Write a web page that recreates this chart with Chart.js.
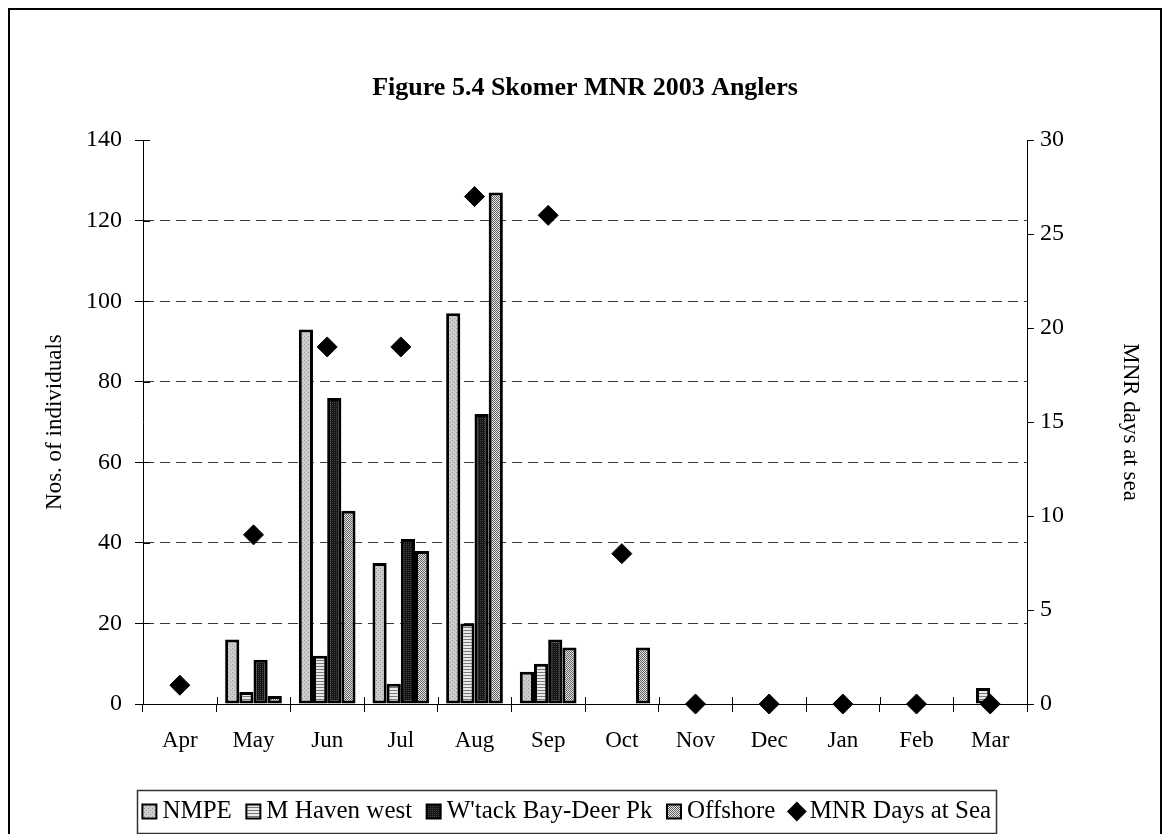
<!DOCTYPE html>
<html>
<head>
<meta charset="utf-8">
<title>Skomer MNR 2003 Anglers</title>
<script src="https://cdn.jsdelivr.net/npm/chart.js@4"></script>
<style>
  body { margin: 0; background: #fff; }
  #wrap { position: relative; width: 1170px; height: 834px; }
</style>
</head>
<body>
<div id="wrap"><canvas id="chart-area" width="1170" height="834"></canvas></div>
<script>
// data
var months = ['Apr', 'May', 'Jun', 'Jul', 'Aug', 'Sep', 'Oct', 'Nov', 'Dec', 'Jan', 'Feb', 'Mar'];
var nmpe = [0, 16, 93, 35, 97, 8, 0, 0, 0, 0, 0, 0];
var mHavenWest = [0, 3, 12, 5, 20, 10, 0, 0, 0, 0, 0, 4];
var wtackBay = [0, 11, 76, 41, 72, 16, 0, 0, 0, 0, 0, 0];
var offshore = [0, 2, 48, 38, 127, 14, 14, 0, 0, 0, 0, 0];
var daysAtSea = [1, 9, 19, 19, 27, 26, 8, 0, 0, 0, 0, 0];
var leftTicks = [0, 20, 40, 60, 80, 100, 120, 140];
var rightTicks = [0, 5, 10, 15, 20, 25, 30];

var serif = '"Liberation Serif", "Times New Roman", serif';

function makePattern(w, h, paint) {
	var c = document.createElement('canvas');
	c.width = w; c.height = h;
	var g = c.getContext('2d');
	paint(g);
	return g.createPattern(c, 'repeat');
}

var fillNmpe = makePattern(4, 4, function (g) {
	g.fillStyle = '#cccccc'; g.fillRect(0, 0, 4, 4);
	g.fillStyle = '#999999'; g.fillRect(0, 0, 1, 1); g.fillRect(2, 2, 1, 1);
});
var fillHaven = makePattern(3, 3, function (g) {
	g.fillStyle = '#eaeaea'; g.fillRect(0, 0, 3, 3);
	g.fillStyle = '#777777'; g.fillRect(0, 0, 3, 1);
});
var fillWtack = makePattern(2, 2, function (g) {
	g.fillStyle = '#151515'; g.fillRect(0, 0, 2, 2);
	g.fillStyle = '#444444'; g.fillRect(0, 0, 1, 1);
});
var fillOffshore = makePattern(2, 2, function (g) {
	g.fillStyle = '#e6e6e6'; g.fillRect(0, 0, 2, 2);
	g.fillStyle = '#5e5e5e'; g.fillRect(0, 0, 1, 1); g.fillRect(1, 1, 1, 1);
});

function barSet(label, data, fill) {
	return {
		type: 'bar',
		label: label,
		data: data,
		backgroundColor: fill,
		borderColor: '#000',
		borderWidth: 3,
		borderSkipped: false,
		yAxisID: 'y',
		order: 1
	};
}

// frame round the whole figure and box round the legend
var framePlugin = {
	id: 'frame',
	afterLayout: function (chart) {
		// legend sits a little left of centre in the original
		chart.legend.left -= 15;
		chart.legend.right -= 15;
	},
	afterDraw: function (chart) {
		var ctx = chart.ctx;
		ctx.save();
		ctx.strokeStyle = '#000';
		ctx.lineWidth = 2;
		ctx.strokeRect(9, 9, 1152, 900);

		var boxes = chart.legend.legendHitBoxes;
		if (boxes && boxes.length) {
			var l = Infinity, r = -Infinity, t = Infinity, b = -Infinity;
			boxes.forEach(function (h) {
				l = Math.min(l, h.left); r = Math.max(r, h.left + h.width);
				t = Math.min(t, h.top); b = Math.max(b, h.top + h.height);
			});
			ctx.lineWidth = 1.5;
			ctx.strokeStyle = '#333';
			ctx.strokeRect(Math.round(l) - 11.5, Math.round(t) - 8.5, Math.round(r - l) + 17, Math.round(b - t) + 18);
		}

		// inward halves of the crossing tick marks
		var xs = chart.scales.x, ys = chart.scales.y, a = chart.chartArea;
		ctx.lineWidth = 1;
		ctx.strokeStyle = '#000';
		ctx.beginPath();
		leftTicks.forEach(function (v) {
			var py = Math.round(ys.getPixelForValue(v)) + 0.5;
			ctx.moveTo(a.left, py); ctx.lineTo(a.left + 7, py);
		});
		for (var i = 0; i <= months.length; i++) {
			var px = Math.round(xs.getPixelForValue(i - 0.5)) + 0.5;
			ctx.moveTo(px, a.bottom); ctx.lineTo(px, a.bottom - 7);
		}
		ctx.stroke();
		ctx.restore();
	}
};

var config = {
	data: {
		labels: months,
		datasets: [
			barSet('NMPE', nmpe, fillNmpe),
			barSet('M Haven west', mHavenWest, fillHaven),
			barSet("W'tack Bay-Deer Pk", wtackBay, fillWtack),
			barSet('Offshore', offshore, fillOffshore),
			{
				type: 'line',
				label: 'MNR Days at Sea',
				data: daysAtSea,
				yAxisID: 'y1',
				showLine: false,
				clip: false,
				pointStyle: 'rectRot',
				pointRadius: 10,
				pointHoverRadius: 10,
				backgroundColor: '#000',
				borderColor: '#000',
				pointBackgroundColor: '#000',
				pointBorderColor: '#000',
				pointBorderWidth: 1,
				order: 0
			}
		]
	},
	options: {
		responsive: false,
		animation: false,
		datasets: {
			bar: { categoryPercentage: 0.77, barPercentage: 1 }
		},
		layout: { padding: { left: 0, right: 0, top: 0, bottom: 0 } },
		plugins: {
			tooltip: { enabled: false },
			title: {
				display: true,
				text: 'Figure 5.4 Skomer MNR 2003 Anglers',
				color: '#000',
				font: { family: serif, size: 26, weight: 'bold' },
				padding: { top: 73, bottom: 36 }
			},
			legend: {
				position: 'bottom',
				labels: {
					color: '#000',
					font: { family: serif, size: 25 },
					usePointStyle: true,
					boxWidth: 1,
					boxHeight: 14,
					padding: 21,
					sort: function (a, b) { return a.datasetIndex - b.datasetIndex; },
					generateLabels: function (chart) {
						var items = Chart.defaults.plugins.legend.labels.generateLabels(chart);
						items.forEach(function (it) {
							it.pointStyle = it.datasetIndex === 4 ? 'rectRot' : 'rect';
							it.strokeStyle = '#000';
							it.lineWidth = it.datasetIndex === 4 ? 0 : 2;
						});
						return items;
					}
				}
			}
		},
		scales: {
			x: {
				offset: true,
				afterFit: function (s) { s.height = 74; },
				grid: {
					offset: true,
					drawOnChartArea: false,
					color: '#000',
					tickLength: 8
				},
				border: { color: '#000', width: 1 },
				ticks: {
					color: '#000',
					font: { family: serif, size: 23 },
					padding: 15,
					maxRotation: 0
				}
			},
			y: {
				position: 'left',
				min: 0,
				max: 140,
				afterFit: function (s) { s.width = 143; },
				afterBuildTicks: function (s) {
					s.ticks = leftTicks.map(function (v) { return { value: v }; });
				},
				grid: {
					color: function (c) {
						return (c.tick && (c.tick.value === 140 || c.tick.value === 0)) ? 'rgba(0,0,0,0)' : '#3a3a3a';
					},
					tickColor: '#000',
					tickLength: 8,
					lineWidth: 1
				},
				border: { color: '#000', width: 1, dash: [10, 6] },
				ticks: {
					color: '#000',
					font: { family: serif, size: 24 },
					padding: 13
				},
				title: {
					display: true,
					text: 'Nos. of individuals',
					color: '#000',
					font: { family: serif, size: 23 },
					padding: { top: 41, bottom: 0 }
				}
			},
			y1: {
				position: 'right',
				min: 0,
				max: 30,
				afterFit: function (s) { s.width = 143; },
				afterBuildTicks: function (s) {
					s.ticks = rightTicks.map(function (v) { return { value: v }; });
				},
				grid: {
					drawOnChartArea: false,
					color: '#000',
					tickLength: 7
				},
				border: { color: '#000', width: 1 },
				ticks: {
					color: '#000',
					font: { family: serif, size: 24 },
					padding: 6
				},
				title: {
					display: true,
					text: 'MNR days at sea',
					color: '#000',
					font: { family: serif, size: 23 },
					padding: { top: 26, bottom: 0 }
				}
			}
		}
	},
	plugins: [framePlugin]
};

var ctx = document.getElementById('chart-area').getContext('2d');
window.myChart = new Chart(ctx, config);
</script>
</body>
</html>
